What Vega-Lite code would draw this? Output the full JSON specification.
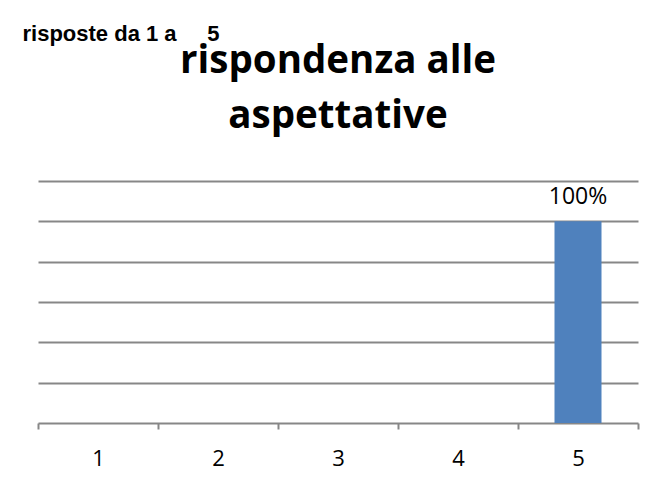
{
  "$schema": "https://vega.github.io/schema/vega-lite/v6.json",
  "width": 600,
  "height": 242,
  "autosize": {"type": "none"},
  "padding": {"left": 38, "top": 181, "right": 23, "bottom": 60},
  "background": "white",
  "title": {
    "text": ["rispondenza alle", "aspettative"],
    "font": "Open Sans",
    "fontWeight": "bold",
    "fontSize": 38.5,
    "lineHeight": 55,
    "color": "#000000",
    "anchor": "middle",
    "offset": -114
  },
  "data": {
    "values": [
      {"risposta": "1", "percentuale": 0},
      {"risposta": "2", "percentuale": 0},
      {"risposta": "3", "percentuale": 0},
      {"risposta": "4", "percentuale": 0},
      {"risposta": "5", "percentuale": 1}
    ]
  },
  "encoding": {
    "x": {
      "field": "risposta",
      "type": "ordinal",
      "scale": {"paddingInner": 0, "paddingOuter": 0},
      "axis": {
        "title": null,
        "labelAngle": 0,
        "labelFont": "Open Sans",
        "labelFontSize": 22,
        "labelColor": "#000000",
        "labelBaseline": "alphabetic",
        "labelPadding": 36,
        "domainColor": "#878787",
        "domainWidth": 2,
        "tickColor": "#878787",
        "tickWidth": 2,
        "tickSize": 6,
        "tickBand": "extent",
        "grid": false
      }
    },
    "y": {
      "field": "percentuale",
      "type": "quantitative",
      "scale": {"domain": [0, 1.2], "nice": false, "zero": true},
      "axis": {
        "title": "risposte da 1 a\u00a0\u00a0\u00a0\u00a0\u00a05",
        "titleAngle": 0,
        "titleAlign": "left",
        "titleBaseline": "alphabetic",
        "titleX": -16,
        "titleY": -141,
        "titleFont": "Liberation Sans",
        "titleFontSize": 22,
        "titleFontWeight": "bold",
        "titleColor": "#000000",
        "values": [0.2, 0.4, 0.6, 0.8, 1.0, 1.2],
        "labels": false,
        "ticks": false,
        "domain": false,
        "grid": true,
        "gridColor": "#878787",
        "gridWidth": 2,
        "gridOpacity": 1
      }
    }
  },
  "layer": [
    {
      "mark": {"type": "bar", "size": 47, "color": "#4f81bd"}
    },
    {
      "transform": [{"filter": "datum.percentuale > 0"}],
      "mark": {
        "type": "text",
        "font": "Open Sans",
        "fontSize": 23,
        "color": "#000000",
        "baseline": "alphabetic",
        "dy": -17
      },
      "encoding": {
        "text": {"field": "percentuale", "type": "quantitative", "format": ".0%"}
      }
    }
  ],
  "config": {
    "view": {"stroke": null}
  }
}
